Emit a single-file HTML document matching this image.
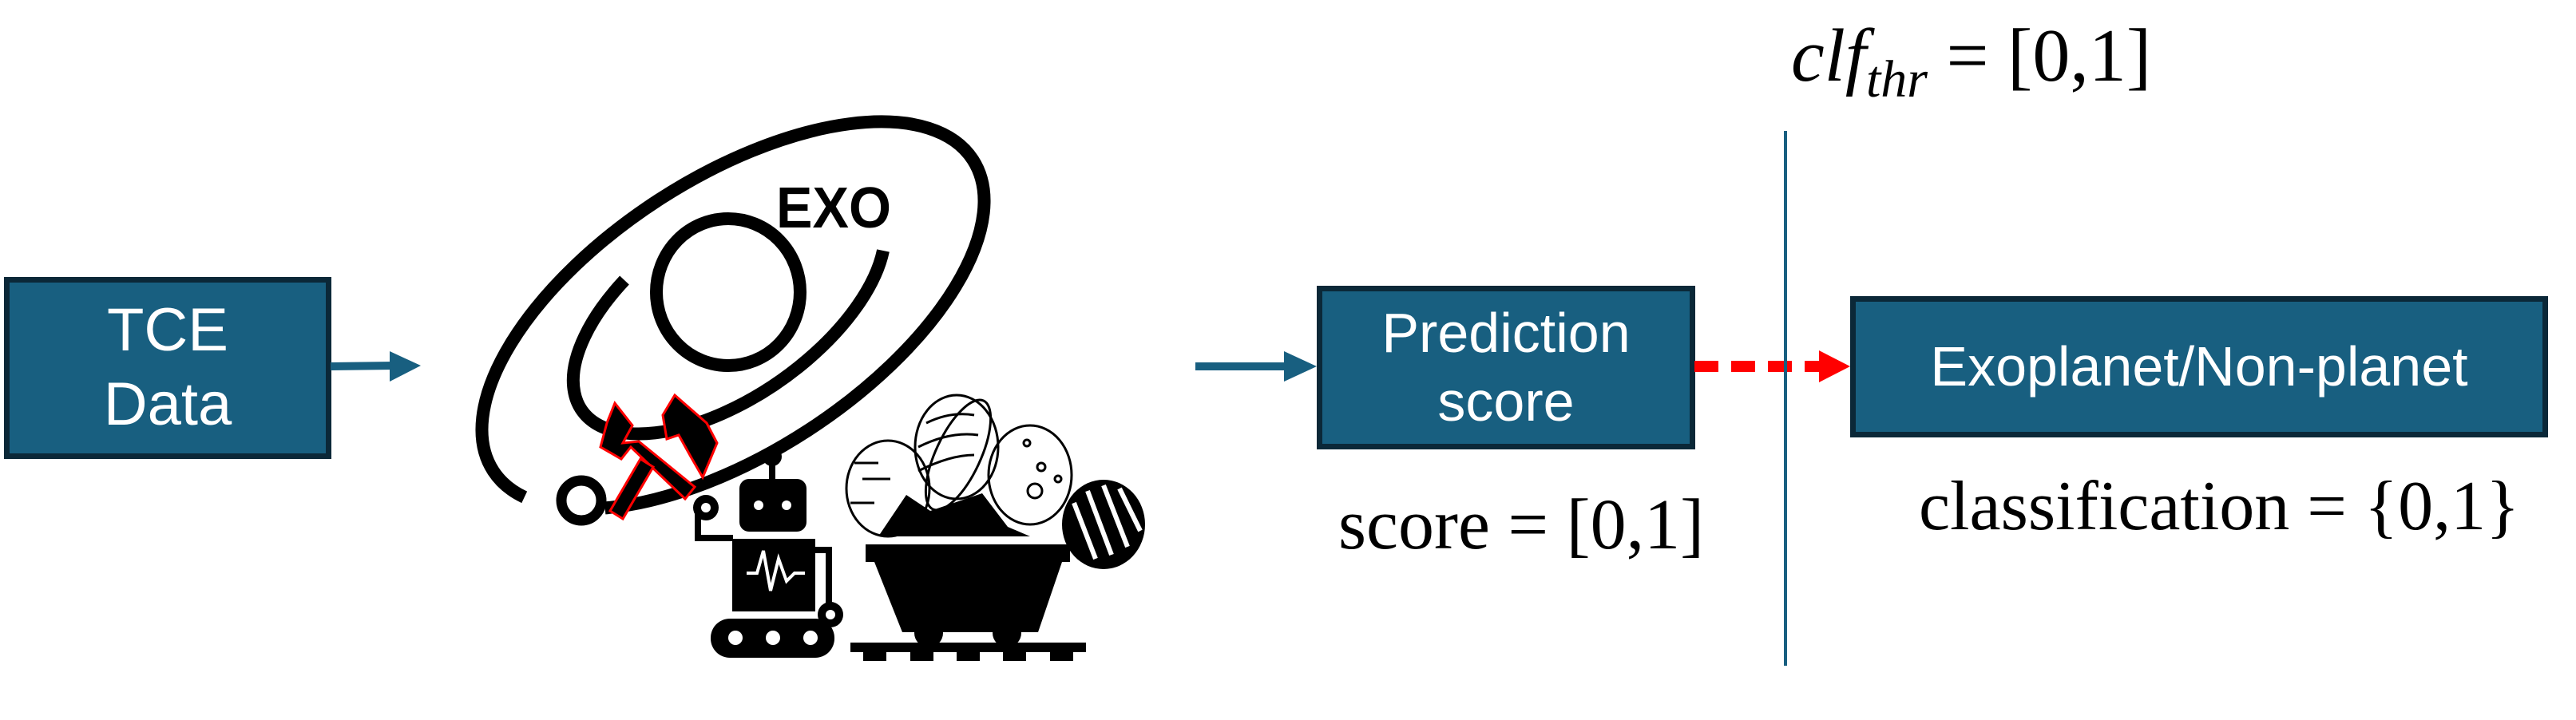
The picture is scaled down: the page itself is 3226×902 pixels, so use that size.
<!DOCTYPE html>
<html><head><meta charset="utf-8"><style>
html,body{margin:0;padding:0;background:#fff;}
body{width:3226px;height:902px;position:relative;overflow:hidden;font-family:"Liberation Sans",sans-serif;}
.box{position:absolute;background:#185f80;border:7px solid #0b2838;box-sizing:border-box;color:#fff;display:flex;align-items:center;justify-content:center;text-align:center;line-height:1.22;}
.m{position:absolute;font-family:"Liberation Serif",serif;color:#000;white-space:nowrap;}
</style></head><body>
<div class="box" style="left:5px;top:347px;width:410px;height:228px;font-size:76px;">TCE<br>Data</div>
<div class="box" style="left:1649px;top:358px;width:474px;height:205px;font-size:70px;">Prediction<br>score</div>
<div class="box" style="left:2317px;top:371px;width:874px;height:177px;font-size:70px;">Exoplanet/Non-planet</div>
<div class="m" style="left:2243px;top:16px;font-size:94px;"><i>clf</i><sub style="font-size:66px;vertical-align:-20px"><i>thr</i></sub> = [0,1]</div>
<div class="m" style="left:1676px;top:606px;font-size:90px;">score = [0,1]</div>
<div class="m" style="left:2403px;top:584px;font-size:88px;">classification = {0,1}</div>
<svg width="3226" height="902" style="position:absolute;left:0;top:0">
<line x1="414" y1="459" x2="495" y2="458" stroke="#185f80" stroke-width="10"/>
<polygon points="488,440 527,458 488,478" fill="#185f80"/>
<line x1="1497" y1="459" x2="1615" y2="459" stroke="#185f80" stroke-width="10"/>
<polygon points="1608,440 1649,459 1608,478" fill="#185f80"/>
<line x1="2122" y1="459" x2="2280" y2="459" stroke="#f00" stroke-width="14" stroke-dasharray="30,16"/>
<polygon points="2278,439 2317,459 2278,479" fill="#f00"/>
<line x1="2236" y1="164" x2="2236" y2="834" stroke="#185f80" stroke-width="4"/>
<g fill="none" stroke="#000" stroke-width="16">
<ellipse cx="918" cy="395" rx="358" ry="172" transform="rotate(-33 918 395)" pathLength="100" stroke-dasharray="94 6" stroke-dashoffset="-47"/>
<ellipse cx="912" cy="366" rx="90" ry="92"/>
<path d="M782,351 A225,112 -35 1 0 1106,314"/>
</g>
<text x="972" y="285" font-family="Liberation Sans" font-weight="bold" font-size="72" fill="#000" textLength="144" lengthAdjust="spacingAndGlyphs">EXO</text>
<circle cx="728" cy="627" r="25" fill="none" stroke="#000" stroke-width="13"/>
<g fill="#000" stroke="#f00" stroke-width="3">
<polygon points="770,505 792,533 780,555 800,553 870,610 858,625 790,560 778,575 752,560 760,530"/>
<polygon points="845,495 885,530 898,555 880,598 865,572 850,545 835,550 830,520"/>
<polygon points="802,575 818,585 780,650 764,640"/>
</g>
<g fill="#000">
<circle cx="967" cy="572" r="12"/>
<rect x="963" y="575" width="8" height="28"/>
<rect x="926" y="600" width="84" height="66" rx="12"/>
<rect x="917" y="675" width="104" height="91"/>
<rect x="890" y="775" width="155" height="49" rx="24"/>
<path d="M878,630 v40 h40 v8 h-48 v-48z"/>
<circle cx="884" cy="636" r="16"/>
<path d="M1020,685 h22 v80 h-8 v-72 h-14z"/>
<circle cx="1040" cy="770" r="16"/>
<rect x="1084" y="682" width="256" height="22"/>
<polygon points="1095,704 1330,704 1300,792 1130,792"/>
<polygon points="1100,672 1135,620 1165,640 1230,618 1262,660 1290,672"/>
<circle cx="1163" cy="793" r="18"/><circle cx="1261" cy="793" r="18"/>
<rect x="1065" y="805" width="295" height="12"/>
<rect x="1081" y="817" width="29" height="11"/><rect x="1140" y="817" width="29" height="11"/><rect x="1198" y="817" width="29" height="11"/><rect x="1256" y="817" width="29" height="11"/><rect x="1315" y="817" width="29" height="11"/>
<ellipse cx="1382" cy="657" rx="52" ry="56"/>
</g>
<g fill="#fff">
<circle cx="950" cy="633" r="6"/><circle cx="985" cy="633" r="6"/>
<circle cx="921" cy="799" r="9"/><circle cx="968" cy="799" r="9"/><circle cx="1015" cy="799" r="9"/>
<circle cx="884" cy="636" r="6"/><circle cx="1040" cy="770" r="6"/>
</g>
<polyline points="935,718 948,718 956,690 965,740 975,700 985,728 995,718 1008,718" fill="none" stroke="#fff" stroke-width="4"/>
<g stroke="#fff" stroke-width="6"><line x1="1345" y1="630" x2="1372" y2="700"/><line x1="1362" y1="615" x2="1392" y2="695"/><line x1="1382" y1="608" x2="1412" y2="685"/><line x1="1402" y1="612" x2="1428" y2="665"/></g>
<g fill="none" stroke="#000" stroke-width="3">
<ellipse cx="1112" cy="612" rx="52" ry="60"/>
<ellipse cx="1198" cy="560" rx="52" ry="65"/>
<ellipse cx="1290" cy="595" rx="52" ry="62"/>
<ellipse cx="1200" cy="570" rx="28" ry="75" transform="rotate(25 1200 570)"/>
<path d="M1160,530 q30,-15 60,-10 M1150,560 q40,-20 75,-15 M1150,590 q40,-20 70,-20"/>
<path d="M1070,580 h30 M1080,600 h35 M1065,630 h30"/>
<circle cx="1286" cy="555" r="4"/><circle cx="1304" cy="585" r="5"/><circle cx="1296" cy="615" r="9"/><circle cx="1325" cy="600" r="4"/>
</g>
</svg>
</body></html>
